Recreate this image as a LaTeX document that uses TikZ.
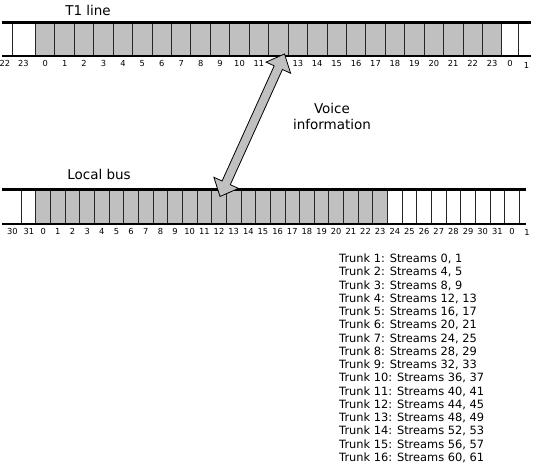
\documentclass[tikz,border=0pt]{standalone}
\usepackage{fontspec}
\setmainfont{DejaVu Sans}
\usetikzlibrary{calc}
\definecolor{cellgray}{HTML}{C0C0C0}
\begin{document}
\begin{tikzpicture}[x=1pt,y=-1pt,
  rail/.style={line width=2.8pt},
  divider/.style={line width=0.9pt, draw=black!85},
  lbl/.style={font=\fontsize{8.3}{9}\selectfont, inner sep=0pt, anchor=center},
  title/.style={font=\fontsize{13.5}{16}\selectfont, inner sep=0pt, align=center},
  blockarrow/.style={fill=cellgray, draw=black, line width=0.8pt, line join=miter},
  trunklist/.style={anchor=base west, inner sep=0pt, align=left, font=\fontsize{11.4}{13.25}\selectfont}
]
\useasboundingbox (0,0) rectangle (533,464);
% ---------------- T1 line ----------------
\def\tA{35.5}
\def\tw{19.43}
\fill[cellgray] (\tA,22.5) rectangle ({\tA+24*\tw},56);
\foreach \x in {12.5, 518.3} \draw[divider] (\x,22.5) -- (\x,56);
\foreach \i in {0,...,24} \draw[divider] ({\tA+\i*\tw},22.5) -- ({\tA+\i*\tw},56);
\draw[rail] (2,22.5) -- (531,22.5);
\draw[rail] (2,56) -- (531,56);
\node[title] (t1title) at (88,10) {T1 line};
\node[lbl] (t1a) at (5,63.5) {22};
\node[lbl] (t1b) at (23.5,63.5) {23};
\foreach \i in {0,...,23} \node[lbl] (t1n\i) at ({\tA+(\i+0.5)*\tw},63.5) {\i};
\node[lbl] (t1c) at (510,63.5) {0};
\node[lbl] (t1d) at (526.5,65) {1};
% ---------------- Local bus ----------------
\def\lA{35.9}
\def\lw{14.65}
\fill[cellgray] (\lA,189.5) rectangle ({\lA+24*\lw},224);
\draw[divider] (21.7,189.5) -- (21.7,224);
\foreach \i in {0,...,33} \draw[divider] ({\lA+\i*\lw},189.5) -- ({\lA+\i*\lw},224);
\draw[rail] (2,189.5) -- (525.5,189.5);
\draw[rail] (2,224) -- (525.5,224);
\node[title] (lbtitle) at (99,174) {Local bus};
\node[lbl] (lba) at (12.3,231.5) {30};
\node[lbl] (lbb) at (28.8,231.5) {31};
\foreach \i in {0,...,31} \node[lbl] (lbn\i) at ({\lA+(\i+0.5)*\lw},231.5) {\i};
\node[lbl] (lbc) at ({\lA+32.5*\lw},231.5) {0};
\node[lbl] (lbd) at (527,232.5) {1};
% ---------------- Arrow ----------------
\coordinate (A) at (284.5,54);
\coordinate (B) at (220,196.5);
\coordinate (Ah) at ($(A)!15pt!(B)$);
\coordinate (Bh) at ($(B)!15pt!(A)$);
\draw[blockarrow] (A) -- ($(Ah)!13.5pt!90:(A)$) -- ($(Ah)!4.5pt!90:(A)$)
  -- ($(Bh)!4.5pt!-90:(B)$) -- ($(Bh)!13.5pt!-90:(B)$) -- (B)
  -- ($(Bh)!13.5pt!90:(B)$) -- ($(Bh)!4.5pt!90:(B)$)
  -- ($(Ah)!4.5pt!-90:(A)$) -- ($(Ah)!13.5pt!-90:(A)$) -- cycle;
\node[title] (voice) at (332,116) {Voice\\information};
% ---------------- Trunk list ----------------
\node[trunklist] (trunks) at (339,461.3) {Trunk 1: Streams 0, 1\\
Trunk 2: Streams 4, 5\\
Trunk 3: Streams 8, 9\\
Trunk 4: Streams 12, 13\\
Trunk 5: Streams 16, 17\\
Trunk 6: Streams 20, 21\\
Trunk 7: Streams 24, 25\\
Trunk 8: Streams 28, 29\\
Trunk 9: Streams 32, 33\\
Trunk 10: Streams 36, 37\\
Trunk 11: Streams 40, 41\\
Trunk 12: Streams 44, 45\\
Trunk 13: Streams 48, 49\\
Trunk 14: Streams 52, 53\\
Trunk 15: Streams 56, 57\\
Trunk 16: Streams 60, 61};
\end{tikzpicture}
\end{document}
